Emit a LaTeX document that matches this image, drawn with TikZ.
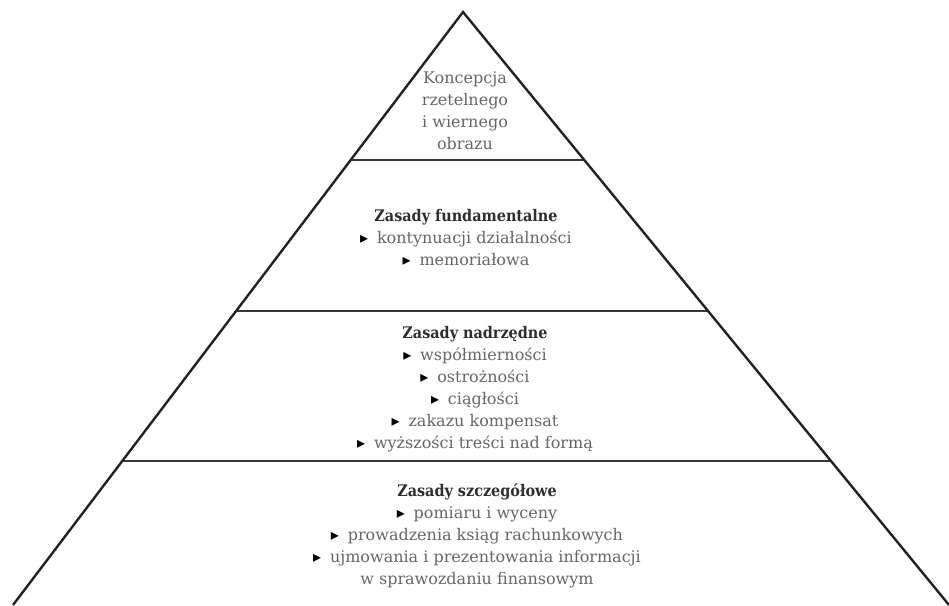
\documentclass[tikz,border=0pt]{standalone}
\usepackage{fontspec}
\setmainfont{DejaVu Serif}
\newfontfamily\symfont{DejaVu Sans}
\newfontfamily\hdfont{DejaVu Serif Condensed}
\usetikzlibrary{calc}
\definecolor{edgecol}{HTML}{222222}
\definecolor{txtcol}{HTML}{666666}
\definecolor{headcol}{HTML}{2E2E2E}
\newcommand{\blt}{{\symfont\color{black}▸}\hspace{0.55em}}
\newcommand{\hd}[1]{{\hdfont\color{headcol}\bfseries #1}}
\begin{document}
\begin{tikzpicture}[x=1pt,y=-1pt,
  edge/.style={draw=edgecol,line width=2.4pt,line join=miter},
  sep/.style={draw=edgecol!90,line width=2.4pt},
  tier/.style={align=center,text=txtcol,inner sep=0pt,font=\fontsize{16}{22}\selectfont}]
\useasboundingbox (0,0) rectangle (949,605);
\coordinate (apex) at (463,12);
\coordinate (bl) at (13,605);
\coordinate (br) at (949,605);
\coordinate (l1) at ($(apex)!0.2496!(bl)$);
\coordinate (r1) at ($(apex)!0.2496!(br)$);
\coordinate (l2) at ($(apex)!0.5042!(bl)$);
\coordinate (r2) at ($(apex)!0.5042!(br)$);
\coordinate (l3) at ($(apex)!0.7572!(bl)$);
\coordinate (r3) at ($(apex)!0.7572!(br)$);
\draw[sep] (l1) -- (r1);
\draw[sep] (l2) -- (r2);
\draw[sep] (l3) -- (r3);
\draw[edge] (bl) -- (apex) -- (br);
\node[tier] (t1) at (465,111) {Koncepcja\\rzetelnego\\i wiernego\\obrazu};
\node[tier] (t2) at (466,238) {\hd{Zasady fundamentalne}\\\blt kontynuacji działalności\\\blt memoriałowa};
\node[tier] (t3) at (475,389) {\hd{Zasady nadrzędne}\\\blt współmierności\\\blt ostrożności\\\blt ciągłości\\\blt zakazu kompensat\\\blt wyższości treści nad formą};
\node[tier] (t4) at (477,536) {\hd{Zasady szczegółowe}\\\blt pomiaru i wyceny\\\blt prowadzenia ksiąg rachunkowych\\\blt ujmowania i prezentowania informacji\\w sprawozdaniu finansowym};
\end{tikzpicture}
\end{document}
